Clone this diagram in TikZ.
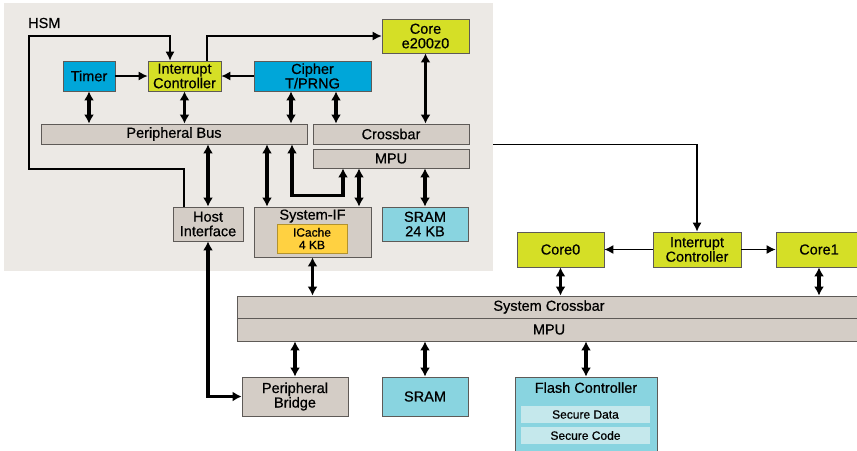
\documentclass[tikz,border=0pt]{standalone}
\usepackage{fontspec}
\setmainfont{Liberation Sans}[FakeBold=0.6]
\usepackage{xcolor}
\usepackage{tikz}
\usetikzlibrary{arrows.meta,calc}
\definecolor{hsmbg}{HTML}{ECE9E5}
\definecolor{boxgray}{HTML}{D4CDC6}
\definecolor{edge}{HTML}{5E5A57}
\definecolor{cyanblk}{HTML}{00A6D9}
\definecolor{lime}{HTML}{D5DF26}
\definecolor{aqua}{HTML}{89D4E0}
\definecolor{amber}{HTML}{FFD141}
\definecolor{paleaqua}{HTML}{C5E8EC}
\tikzset{
  blk/.style  ={draw=edge, rectangle, align=center, inner sep=0pt, line width=0.8pt, font=\fontsize{14.5}{14.5}\selectfont},
  gblk/.style ={blk, fill=boxgray},
  cblk/.style ={blk, fill=cyanblk},
  yblk/.style ={blk, fill=lime},
  sblk/.style ={blk, fill=aqua},
  cache/.style={blk, draw=amber!70!black, fill=amber, font=\fontsize{12}{12.5}\selectfont},
  sub/.style  ={rectangle, fill=paleaqua, inner sep=0pt, minimum width=129pt, minimum height=17pt, font=\fontsize{12}{12}\selectfont},
  lbl/.style  ={inner sep=0pt, font=\fontsize{14.5}{14.5}\selectfont},
  dbl/.style  ={{Latex[length=9pt,width=10pt]}-{Latex[length=9pt,width=10pt]}, line width=3.5pt},
  arr/.style  ={-{Latex[length=9pt,width=9pt]}, line width=1.1pt},
}
\begin{document}
\begin{tikzpicture}[x=1pt, y=-1pt]
  \useasboundingbox (0,0) rectangle (857,450);
  % HSM area
  \node[fill=hsmbg, inner sep=0pt, minimum width=489pt, minimum height=268pt] (hsm) at (248.5,137) {};
  \node[lbl, anchor=west] (hsmlbl) at (28,23) {HSM};

  \node[cblk, minimum width=52pt, minimum height=30pt] (timer) at (89,76) {Timer};
  \node[yblk, minimum width=73pt, minimum height=30pt] (hic) at (184.5,76) {Interrupt\\Controller};
  \node[cblk, minimum width=117pt, minimum height=30pt] (cipher) at (312.5,76) {Cipher\\T/PRNG};
  \node[yblk, minimum width=87pt, minimum height=34pt] (core) at (425.5,36) {Core\\e200z0};
  \node[gblk, minimum width=266pt, minimum height=20pt] (pbus) at (174,134) {Peripheral Bus};
  \node[gblk, minimum width=156pt, minimum height=20pt] (xbar) at (391,134) {Crossbar};
  \node[gblk, minimum width=156pt, minimum height=19pt] (hmpu) at (391,158.5) {MPU};
  \node[gblk, minimum width=70pt, minimum height=34pt] (host) at (208,224) {Host\\Interface};
  \node[gblk, minimum width=117pt, minimum height=50pt] (sysif) at (312.5,232) {};
  \node[lbl] (sysiflbl) at ($(sysif.north)+(0,9.5)$) {System-IF};
  \node[cache, minimum width=70pt, minimum height=29pt] (icache) at (312,238.5) {ICache\\4 KB};
  \node[sblk, minimum width=86pt, minimum height=34pt] (hsram) at (425,224) {SRAM\\24 KB};

  % system side
  \node[yblk, minimum width=88pt, minimum height=35pt] (mic) at (697,249.5) {Interrupt\\Controller};
  \node[yblk, minimum width=87pt, minimum height=35pt] (core0) at (560.5,249.5) {Core0};
  \node[yblk, minimum width=86pt, minimum height=35pt] (core1) at (819,249.5) {Core1};
  \node[gblk, minimum width=624pt, minimum height=22pt] (sxbar) at (549,307) {System Crossbar};
  \node[gblk, minimum width=624pt, minimum height=23pt] (smpu) at (549,329.5) {MPU};
  \node[gblk, minimum width=106pt, minimum height=39pt] (pbridge) at (295,396.5) {Peripheral\\Bridge};
  \node[sblk, minimum width=86pt, minimum height=39pt] (sram) at (425,396.5) {SRAM};
  \node[sblk, minimum width=142pt, minimum height=76pt] (flash) at (586,415) {};
  \node[lbl] (flashlbl) at ($(flash.north)+(0,11)$) {Flash Controller};
  \node[sub] (sdata) at (585.5,414.5) {Secure Data};
  \node[sub] (scode) at (585.5,435.5) {Secure Code};

  % helper points
  \coordinate (hostup) at ([xshift=-24pt]host.north);
  \coordinate (hicin)  at ([xshift=-14.5pt]hic.north);
  \coordinate (hicout) at ([xshift=22.5pt]hic.north);
  \coordinate (cipa)   at ([xshift=-21.5pt]cipher.south);
  \coordinate (cipb)   at ([xshift=23.5pt]cipher.south);
  \coordinate (sifa)   at ([xshift=-45.5pt]sysif.north);
  \coordinate (sifb)   at ([xshift=-20.5pt]sysif.north);
  \coordinate (sifc)   at ([xshift=30.5pt]sysif.north);
  \coordinate (sifd)   at ([xshift=46.5pt]sysif.north);

  % thin connectors
  \draw[arr] (timer.east) -- (hic.west);
  \draw[arr] (cipher.west) -- (hic.east);
  \draw[arr] (hostup) |- (29,169) |- (hicin |- core.west) -- (hicin);
  \draw[arr] (hicout) |- (core.west);
  \draw[arr] (hsm.east |- xbar.south) -| (mic.north);
  \draw[arr] (mic.west) -- (core0.east);
  \draw[arr] (mic.east) -- (core1.west);

  % bus links
  \draw[dbl] (timer.south) -- (timer.south |- pbus.north);
  \draw[dbl] (hic.south) -- (hic.south |- pbus.north);
  \draw[dbl] (cipa) -- (cipa |- pbus.north);
  \draw[dbl] (cipb) -- (cipb |- xbar.north);
  \draw[dbl] (core.south) -- (core.south |- xbar.north);
  \draw[dbl] (host.north) -- (host.north |- pbus.south);
  \draw[dbl] (sifa) -- (sifa |- pbus.south);
  \draw[dbl] (sifb |- pbus.south) |- ($(sifc)+(0,-11)$) -- (sifc |- hmpu.south);
  \draw[dbl] (sifd) -- (sifd |- hmpu.south);
  \draw[dbl] (hsram.north) -- (hsram.north |- hmpu.south);
  \draw[dbl] (sysif.south) -- (sysif.south |- sxbar.north);
  \draw[dbl] (host.south) |- (pbridge.west);
  \draw[dbl] (core0.south) -- (core0.south |- sxbar.north);
  \draw[dbl] (core1.south) -- (core1.south |- sxbar.north);
  \draw[dbl] (pbridge.north) -- (pbridge.north |- smpu.south);
  \draw[dbl] (sram.north) -- (sram.north |- smpu.south);
  \draw[dbl] (flash.north) -- (flash.north |- smpu.south);
\end{tikzpicture}
\end{document}
